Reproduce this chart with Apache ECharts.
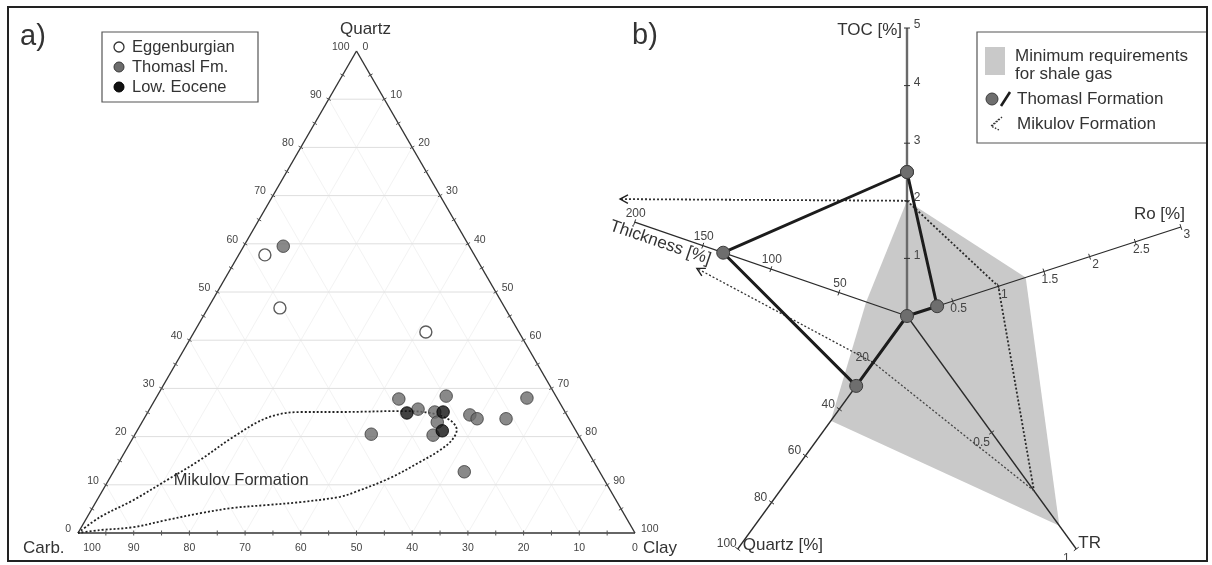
<!DOCTYPE html>
<html>
<head>
<meta charset="utf-8">
<script src="https://cdn.jsdelivr.net/npm/echarts@6/dist/echarts.min.js"></script>
<style>
  html, body { margin: 0; padding: 0; background: #fff; }
  #main { width: 1212px; height: 565px; }
</style>
</head>
<body>
<div id="main"></div>
<script>
// ---------------- Panel a: ternary plot, samples as [Quartz %, Clay %] (Carb. % = remainder)
const eggenburgian = [[57.7, 4.7], [46.7, 12.9], [41.7, 41.6]];
const thomaslFm = [
  [59.5, 7.1], [27.8, 43.7], [25.7, 48.2], [28.4, 51.9], [25.1, 51.5], [23.0, 53.0],
  [20.3, 53.6], [24.5, 58.1], [23.7, 59.8], [23.7, 65.0], [28.0, 66.6], [20.5, 42.4], [12.7, 63.0]
];
const lowEocene = [[24.9, 46.6], [25.1, 53.0], [21.2, 54.8]];
// outline of the Mikulov Formation field
const mikulovField = [
  [0, 0], [3.3, 2.3], [6.8, 6.5], [11.0, 10.5], [15.1, 14.3], [19.9, 17.9], [23.9, 22.0],
  [25.1, 27.3], [25.1, 34.5], [25.3, 45.2], [24.9, 50.8], [23.4, 55.1], [21.4, 57.3],
  [19.3, 57.5], [17.2, 56.4], [14.7, 54.0], [11.4, 50.3], [8.5, 45.5], [7.5, 43.3],
  [6.4, 36.7], [5.8, 31.0], [5.2, 25.2], [4.1, 19.9], [2.7, 14.6], [1.2, 9.3], [0.6, 3.6], [0, 0]
];
const ternaryTickLabels = [0, 10, 20, 30, 40, 50, 60, 70, 80, 90, 100];

// ---------------- Panel b: star plot of shale gas parameters
const radarNames = ['TOC [%]', 'Ro [%]', 'TR', 'Quartz [%]', 'Thickness [%]'];
const radarMax = [5, 3, 1, 100, 200];
const radarTicks = [
  [1, 2, 3, 4, 5],
  [0.5, 1, 1.5, 2, 2.5, 3],
  [0.5, 1],
  [20, 40, 60, 80, 100],
  [50, 100, 150, 200]
];
const minRequirements = [2, 1.3, 0.9, 45, 30];
const thomaslFormation = [2.5, 0.33, 0, 30, 135];
const mikulovFormation = [2, 1, 0.75, 20, 250];   // thickness beyond the axis range

// ---------------- helpers
const FONT = '"Liberation Sans", Arial, sans-serif';
const SQ = Math.sqrt(3) / 2;
const tern = (q, c) => [c + q / 2, q * SQ];

const R = 288;                                  // star axis length (grid units = px)
const axisAngles = [90, 18, -54, -126, 161];    // degrees
function radarPt(i, v) {
  const r = v / radarMax[i] * R, a = axisAngles[i] * Math.PI / 180;
  return [r * Math.cos(a), r * Math.sin(a)];
}
function dirOf(i) { const a = axisAngles[i] * Math.PI / 180; return [Math.cos(a), Math.sin(a)]; }

function segments(grid, segs, style, z) {
  return {
    type: 'custom', coordinateSystem: 'cartesian2d', xAxisIndex: grid, yAxisIndex: grid,
    silent: true, z: z, animation: false,
    data: segs.map(s => [s[0][0], s[0][1]]),
    renderItem: (params, api) => {
      const s = segs[params.dataIndex];
      const a = api.coord(s[0]), b = api.coord(s[1]);
      return { type: 'line', shape: { x1: a[0], y1: a[1], x2: b[0], y2: b[1] },
               style: Object.assign({ fill: null }, style) };
    }
  };
}
function texts(grid, items, z) {
  return {
    type: 'custom', coordinateSystem: 'cartesian2d', xAxisIndex: grid, yAxisIndex: grid,
    silent: true, z: z, animation: false,
    data: items.map(t => t.p),
    renderItem: (params, api) => {
      const t = items[params.dataIndex];
      const c = api.coord(t.p);
      return { type: 'text', x: c[0] + (t.dx || 0), y: c[1] + (t.dy || 0), rotation: t.rot || 0,
               style: { text: t.text, fill: t.color || '#333', font: (t.size || 11) + 'px ' + FONT,
                        align: t.align || 'center', verticalAlign: 'middle' } };
    }
  };
}

const series = [];

// ======== Panel a ========
const gridH = [], gridD = [], ticksA = [];
for (let v = 10; v < 100; v += 10) {
  gridH.push([tern(v, 0), tern(v, 100 - v)]);
  gridD.push([tern(0, v), tern(100 - v, v)]);
  gridD.push([tern(100 - v, 0), tern(0, 100 - v)]);
}
for (let v = 5; v < 100; v += 5) {
  const b = tern(0, v), l = tern(v, 0), r = tern(100 - v, v), h = 0.45;
  ticksA.push([[b[0], b[1] - h], [b[0], b[1] + h]]);
  ticksA.push([[l[0] - SQ * h, l[1] + 0.5 * h], [l[0] + SQ * h, l[1] - 0.5 * h]]);
  ticksA.push([[r[0] + SQ * h, r[1] + 0.5 * h], [r[0] - SQ * h, r[1] - 0.5 * h]]);
}
series.push(segments(0, gridD, { stroke: '#f3f3f3', lineWidth: 1 }, 1));
series.push(segments(0, gridH, { stroke: '#dedede', lineWidth: 1 }, 1));
series.push(segments(0, [[tern(0, 0), tern(0, 100)], [tern(0, 100), tern(100, 0)], [tern(100, 0), tern(0, 0)]],
  { stroke: '#333', lineWidth: 1.4 }, 3));
series.push(segments(0, ticksA, { stroke: '#555', lineWidth: 1 }, 3));

const labelsA = [];
ternaryTickLabels.forEach(v => {
  labelsA.push({ p: tern(v, 0), text: String(v), dx: -7, dy: -4, align: 'right', size: 10.5, color: '#444' });
  labelsA.push({ p: tern(100 - v, v), text: String(v), dx: 6, dy: -4, align: 'left', size: 10.5, color: '#444' });
  labelsA.push({ p: tern(0, 100 - v), text: String(v), dx: v === 100 ? 14 : 0, dy: 15, size: 10.5, color: '#444' });
});
labelsA.push({ p: tern(100, 0), text: 'Quartz', dx: 9, dy: -22, size: 17 });
labelsA.push({ p: tern(0, 0), text: 'Carb.', dx: -55, dy: 15, align: 'left', size: 17 });
labelsA.push({ p: tern(0, 100), text: 'Clay', dx: 8, dy: 15, align: 'left', size: 17 });
labelsA.push({ p: tern(10.8, 23.9), text: 'Mikulov Formation', size: 16.5, color: '#333' });
series.push(texts(0, labelsA, 4));

series.push({
  type: 'line', xAxisIndex: 0, yAxisIndex: 0, data: mikulovField.map(d => tern(d[0], d[1])),
  smooth: 0.35, symbol: 'none', clip: false, silent: true, z: 4,
  lineStyle: { color: '#222', width: 1.8, type: [2, 2] }
});
series.push({
  type: 'scatter', xAxisIndex: 0, yAxisIndex: 0, data: eggenburgian.map(d => tern(d[0], d[1])),
  symbolSize: 12, z: 6, itemStyle: { color: '#fff', borderColor: '#333', borderWidth: 1.4 }
});
series.push({
  type: 'scatter', xAxisIndex: 0, yAxisIndex: 0, data: thomaslFm.map(d => tern(d[0], d[1])),
  symbolSize: 12.5, z: 6, itemStyle: { color: '#6c6c6c', borderColor: '#3a3a3a', borderWidth: 1 }
});
series.push({
  type: 'scatter', xAxisIndex: 0, yAxisIndex: 0, data: lowEocene.map(d => tern(d[0], d[1])),
  symbolSize: 12.5, z: 7, itemStyle: { color: '#111', borderColor: '#000', borderWidth: 1 }
});

// ======== Panel b ========
series.push({
  type: 'custom', coordinateSystem: 'cartesian2d', xAxisIndex: 1, yAxisIndex: 1, silent: true, z: 1,
  data: [[0, 0]],
  renderItem: (params, api) => ({
    type: 'polygon',
    shape: { points: minRequirements.map((v, i) => api.coord(radarPt(i, v))) },
    style: { fill: '#c9c9c9' }
  })
});

const axisSegs = radarNames.map((n, i) => [[0, 0], radarPt(i, radarMax[i])]);
series.push(segments(1, [axisSegs[0]], { stroke: '#6a6a6a', lineWidth: 2.4 }, 3));
series.push(segments(1, axisSegs.slice(1), { stroke: '#2a2a2a', lineWidth: 1.3 }, 3));

const ticksB = [], labelsB = [];
const tickOffset = [[10, -3], [6, 8], [-10, 10], [-11, -5], [1, -9]];
radarTicks.forEach((list, i) => {
  const d = dirOf(i), n = [-d[1], d[0]];
  list.forEach(v => {
    const p = radarPt(i, v);
    ticksB.push([[p[0] - n[0] * 3, p[1] - n[1] * 3], [p[0] + n[0] * 3, p[1] + n[1] * 3]]);
    labelsB.push({ p: p, text: String(v), dx: tickOffset[i][0], dy: tickOffset[i][1], size: 12, color: '#444' });
  });
});
series.push(segments(1, ticksB, { stroke: '#333', lineWidth: 1 }, 3));

const nameSpec = [
  { dx: -5, dy: 2, align: 'right' },
  { dx: 4, dy: -13, align: 'right' },
  { dx: 2, dy: -6, align: 'left' },
  { dx: 5, dy: -4, align: 'left' },
];
radarNames.forEach((n, i) => {
  if (i === 4) {
    labelsB.push({ p: radarPt(4, 182), text: n, dx: 1, dy: 12, size: 17, color: '#333', rot: -19 * Math.PI / 180 });
  } else {
    labelsB.push({ p: radarPt(i, radarMax[i]), text: n, dx: nameSpec[i].dx, dy: nameSpec[i].dy,
                   align: nameSpec[i].align, size: 17, color: '#333' });
  }
});
series.push(texts(1, labelsB, 4));

// Mikulov Formation (dotted)
series.push({
  type: 'line', xAxisIndex: 1, yAxisIndex: 1, silent: true, z: 4, clip: false, symbol: 'none',
  data: [0, 1, 2].map(i => radarPt(i, mikulovFormation[i])),
  lineStyle: { color: '#2a2a2a', width: 1.8, type: [2, 2] }
});
series.push({
  type: 'line', xAxisIndex: 1, yAxisIndex: 1, silent: true, z: 4, clip: false, symbol: 'none',
  data: [2, 3].map(i => radarPt(i, mikulovFormation[i])),
  lineStyle: { color: '#444', width: 1.3, type: [2, 2] }
});
// off-scale thickness: arrows pointing towards it
const arrowFrom = [0, 3], arrowReach = [0.843, 0.575], arrowWidth = [1.8, 1.3];
series.push({
  type: 'custom', coordinateSystem: 'cartesian2d', xAxisIndex: 1, yAxisIndex: 1, silent: true, z: 4,
  data: arrowFrom.map(i => radarPt(i, mikulovFormation[i])),
  renderItem: (params, api) => {
    const k = params.dataIndex, i = arrowFrom[k];
    const a = radarPt(i, mikulovFormation[i]), far = radarPt(4, mikulovFormation[4]);
    const f = arrowReach[k];
    const tip = [a[0] + (far[0] - a[0]) * f, a[1] + (far[1] - a[1]) * f];
    const pa = api.coord(a), pt = api.coord(tip);
    const ang = Math.atan2(pa[1] - pt[1], pa[0] - pt[0]), L = 9, s = 0.5;
    return { type: 'group', children: [
      { type: 'line', shape: { x1: pa[0], y1: pa[1], x2: pt[0], y2: pt[1] },
        style: { stroke: '#333', lineWidth: arrowWidth[k], lineDash: [2, 2] } },
      { type: 'polyline', shape: { points: [
          [pt[0] + L * Math.cos(ang + s), pt[1] + L * Math.sin(ang + s)], pt,
          [pt[0] + L * Math.cos(ang - s), pt[1] + L * Math.sin(ang - s)]] },
        style: { stroke: '#222', lineWidth: 1.4, fill: null } }
    ] };
  }
});

// Thomasl Formation
const thomaslPts = thomaslFormation.map((v, i) => radarPt(i, v));
thomaslPts.push(thomaslPts[0]);
series.push({
  type: 'line', xAxisIndex: 1, yAxisIndex: 1, silent: true, z: 6, clip: false,
  data: thomaslPts, symbol: 'circle', symbolSize: 13,
  lineStyle: { color: '#1c1c1c', width: 3 },
  itemStyle: { color: '#6e6e6e', borderColor: '#3c3c3c', borderWidth: 1 }
});

// ---------------- chart
const chart = echarts.init(document.getElementById('main'), null, { renderer: 'canvas' });
chart.setOption({
  animation: false,
  backgroundColor: '#fff',
  grid: [
    { left: 78, top: 51, width: 557, height: 482 },
    { left: 619, top: 16, width: 576, height: 540 }
  ],
  xAxis: [
    { gridIndex: 0, type: 'value', min: 0, max: 100, show: false },
    { gridIndex: 1, type: 'value', min: -288, max: 288, show: false }
  ],
  yAxis: [
    { gridIndex: 0, type: 'value', min: 0, max: 100 * SQ, show: false },
    { gridIndex: 1, type: 'value', min: -240, max: 300, show: false }
  ],
  graphic: [
    { type: 'rect', z: 100, shape: { x: 8, y: 7, width: 1199, height: 554 }, style: { fill: 'none', stroke: '#222', lineWidth: 2 } },
    { type: 'text', x: 20, y: 37, style: { text: 'a)', font: '29px ' + FONT, fill: '#333', verticalAlign: 'middle' } },
    { type: 'text', x: 632, y: 36, style: { text: 'b)', font: '29px ' + FONT, fill: '#333', verticalAlign: 'middle' } },
    // legend a
    { type: 'rect', z: 50, shape: { x: 102, y: 32, width: 156, height: 70 }, style: { fill: '#fff', stroke: '#555', lineWidth: 1.2 } },
    { type: 'circle', z: 51, shape: { cx: 119, cy: 47, r: 5 }, style: { fill: '#fff', stroke: '#333', lineWidth: 1.3 } },
    { type: 'circle', z: 51, shape: { cx: 119, cy: 67, r: 5 }, style: { fill: '#6c6c6c', stroke: '#3a3a3a', lineWidth: 1 } },
    { type: 'circle', z: 51, shape: { cx: 119, cy: 87, r: 5 }, style: { fill: '#111', stroke: '#000', lineWidth: 1 } },
    { type: 'text', z: 51, x: 132, y: 47, style: { text: 'Eggenburgian', font: '16.5px ' + FONT, fill: '#333', verticalAlign: 'middle' } },
    { type: 'text', z: 51, x: 132, y: 67, style: { text: 'Thomasl Fm.', font: '16.5px ' + FONT, fill: '#333', verticalAlign: 'middle' } },
    { type: 'text', z: 51, x: 132, y: 87, style: { text: 'Low. Eocene', font: '16.5px ' + FONT, fill: '#333', verticalAlign: 'middle' } },
    // legend b
    { type: 'rect', z: 50, shape: { x: 977, y: 32, width: 230, height: 111 }, style: { fill: '#fff', stroke: '#555', lineWidth: 1.2 } },
    { type: 'rect', z: 51, shape: { x: 985, y: 47, width: 20, height: 28 }, style: { fill: '#c9c9c9' } },
    { type: 'text', z: 51, x: 1015, y: 56, style: { text: 'Minimum requirements', font: '17px ' + FONT, fill: '#333', verticalAlign: 'middle' } },
    { type: 'text', z: 51, x: 1015, y: 74, style: { text: 'for shale gas', font: '17px ' + FONT, fill: '#333', verticalAlign: 'middle' } },
    { type: 'circle', z: 51, shape: { cx: 992, cy: 99, r: 6 }, style: { fill: '#6e6e6e', stroke: '#3c3c3c', lineWidth: 1 } },
    { type: 'line', z: 51, shape: { x1: 1001, y1: 106, x2: 1010, y2: 92 }, style: { stroke: '#1c1c1c', lineWidth: 2.6 } },
    { type: 'text', z: 51, x: 1017, y: 99, style: { text: 'Thomasl Formation', font: '17px ' + FONT, fill: '#333', verticalAlign: 'middle' } },
    { type: 'polyline', z: 51, shape: { points: [[999, 119], [991, 126], [999, 130]] }, style: { stroke: '#333', lineWidth: 1.4, fill: null, lineDash: [1.5, 1.5] } },
    { type: 'line', z: 51, shape: { x1: 992, y1: 126, x2: 1002, y2: 117 }, style: { stroke: '#333', lineWidth: 1.4, lineDash: [1.5, 1.5] } },
    { type: 'text', z: 51, x: 1017, y: 124, style: { text: 'Mikulov Formation', font: '17px ' + FONT, fill: '#333', verticalAlign: 'middle' } }
  ],
  series: series
});
</script>
</body>
</html>
